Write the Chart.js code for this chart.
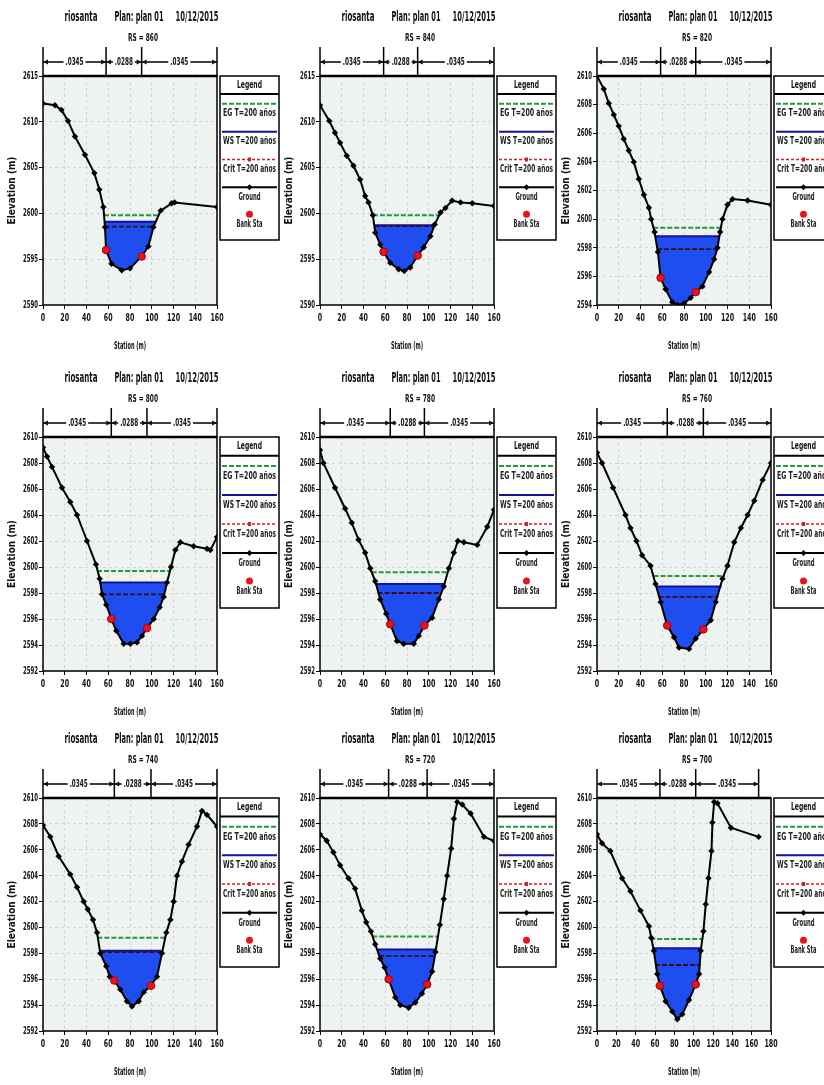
<!DOCTYPE html>
<html>
<head>
<meta charset="utf-8">
<script src="https://cdn.jsdelivr.net/npm/chart.js@4.4.0/dist/chart.umd.min.js"></script>
<style>
html, body { margin: 0; padding: 0; background: #fff; overflow: hidden; width: 824px; height: 1085px; }
canvas { position: absolute; }
</style>
</head>
<body>
<script>
//------------------------- DATA -------------------------------------------------

var titleParts = ['riosanta', 'Plan: plan 01', '10/12/2015'];
var riverSta = ['860', '840', '820', '800', '780', '760', '740', '720', '700'];
var manningN = ['.0345', '.0288', '.0345'];
var legendLabels = ['EG T=200 años', 'WS T=200 años', 'Crit T=200 años', 'Ground', 'Bank Sta'];

// ground profiles (station m / elevation m)
var st860 = [0, 11, 17, 23, 29.4, 38.6, 47.2, 51.8, 55.5, 57, 58, 63, 72.4, 80, 90.7, 96.9, 101.5, 108.2, 118.3, 121, 160];
var el860 = [2612.0, 2611.8, 2611.3, 2610.1, 2608.4, 2606.4, 2604.4, 2602.6, 2600.7, 2598.5, 2596.0, 2594.5, 2593.8, 2594.0, 2595.3, 2596.4, 2598.5, 2600.3, 2601.1, 2601.2, 2600.7];

var st840 = [0, 8.6, 13.8, 18.5, 24.6, 30.8, 36.9, 41.5, 44.6, 48.6, 50.8, 55.4, 58.5, 64.6, 72.3, 77.5, 83, 89.8, 95.4, 101.5, 105.5, 110.8, 115.4, 121.5, 129.2, 140, 160];
var el840 = [2611.8, 2610.1, 2608.8, 2607.7, 2606.3, 2605.2, 2603.7, 2601.9, 2601.2, 2599.8, 2597.9, 2596.6, 2595.8, 2594.6, 2593.9, 2593.7, 2594.1, 2595.4, 2596.3, 2597.5, 2598.8, 2600.1, 2600.6, 2601.4, 2601.2, 2601.1, 2600.8];

var st820 = [0, 6.2, 10.8, 15.4, 20, 24.6, 29.2, 33.8, 38.5, 43.1, 47.7, 49.8, 52.9, 56, 58.5, 63.1, 69.2, 74, 80, 86.2, 90.8, 96.9, 103.1, 107.7, 110.8, 113.2, 115.4, 120, 124.6, 138.5, 160];
var el820 = [2610.0, 2609.1, 2608.1, 2607.3, 2606.5, 2605.6, 2604.8, 2604.0, 2602.8, 2601.7, 2600.8, 2600.0, 2599.1, 2597.7, 2595.9, 2595.1, 2594.2, 2594.0, 2594.1, 2594.5, 2594.9, 2595.3, 2596.3, 2597.2, 2598.0, 2599.1, 2600.0, 2601.0, 2601.4, 2601.3, 2601.0];

var st800 = [0, 3.7, 8.3, 17.5, 25.1, 31.3, 40.5, 48.7, 52.1, 54.3, 58.2, 62.8, 67.4, 74.2, 80.3, 86.4, 91, 95.6, 101.8, 107.3, 111, 114, 117.7, 121.7, 126.3, 138.5, 150.8, 153.9, 160];
var el800 = [2609.2, 2608.5, 2607.7, 2606.1, 2605.0, 2604.0, 2602.0, 2600.2, 2599.1, 2597.9, 2597.1, 2596.0, 2595.1, 2594.1, 2594.1, 2594.2, 2594.7, 2595.3, 2596.0, 2596.9, 2597.7, 2598.8, 2600.0, 2601.3, 2601.9, 2601.6, 2601.4, 2601.3, 2602.3];

var st780 = [0, 3.1, 13.8, 23.1, 29.2, 35.4, 41.5, 46.2, 50.8, 55.4, 60.9, 64.6, 70.8, 76.9, 86.2, 90.8, 96, 103.1, 109.2, 113.8, 118.5, 123.1, 126.8, 132.3, 144.6, 153.8, 160];
var el780 = [2609.0, 2608.0, 2606.1, 2604.5, 2603.4, 2602.1, 2601.1, 2599.9, 2598.9, 2597.5, 2596.4, 2595.6, 2594.3, 2594.1, 2594.1, 2594.7, 2595.5, 2596.1, 2597.5, 2598.5, 2599.9, 2601.1, 2602.0, 2601.9, 2601.7, 2603.1, 2604.4];

var st760 = [0, 4.6, 14.8, 26.2, 30.8, 36.3, 41.5, 49.2, 53.8, 58.5, 64.6, 70.8, 75.4, 84.6, 90.8, 97.8, 104.6, 109.2, 115.4, 120, 126.2, 132.3, 138.5, 144.6, 152.3, 160];
var el760 = [2608.8, 2608.0, 2606.1, 2604.0, 2603.0, 2602.0, 2600.9, 2600.1, 2598.7, 2597.3, 2595.5, 2594.6, 2593.8, 2593.7, 2594.5, 2595.2, 2595.9, 2597.3, 2599.1, 2600.1, 2601.9, 2603.0, 2604.0, 2605.1, 2606.7, 2608.0];

var st740 = [0, 6.7, 14.4, 25.1, 31.3, 37.4, 41.1, 46, 49.7, 52.7, 58.2, 61.3, 65.6, 71.1, 77.2, 81.8, 88, 92.6, 99.3, 104.8, 109.4, 113.4, 117.1, 120.2, 123.2, 127.8, 133.9, 141.6, 146.2, 150.8, 160];
var el740 = [2607.9, 2607.0, 2605.5, 2604.1, 2603.1, 2602.0, 2601.4, 2600.6, 2599.6, 2598.0, 2597.0, 2596.2, 2595.9, 2595.2, 2594.3, 2593.9, 2594.3, 2595.0, 2595.5, 2596.2, 2598.0, 2599.6, 2600.6, 2602.0, 2604.0, 2605.1, 2606.4, 2607.8, 2609.0, 2608.7, 2607.8];

var st720 = [0, 6.2, 12.3, 18.5, 26.2, 32.3, 38.5, 42.5, 46.8, 50.8, 55.4, 59.4, 63.1, 69.2, 73.8, 81.5, 87.7, 93.8, 98.5, 103.1, 106.2, 110.2, 113.8, 116.9, 120.6, 123.1, 126.2, 130.8, 138.5, 150.8, 160];
var el720 = [2607.2, 2606.7, 2605.8, 2604.8, 2603.8, 2603.0, 2601.3, 2600.4, 2599.7, 2598.7, 2597.6, 2596.9, 2596.0, 2594.6, 2594.0, 2593.8, 2594.2, 2594.9, 2595.6, 2596.6, 2598.1, 2600.2, 2602.2, 2604.0, 2606.1, 2608.4, 2609.7, 2609.5, 2608.8, 2607.0, 2606.7];

var st700 = [0, 5.2, 13.8, 26, 34.6, 45, 53.7, 56.1, 58.8, 62.3, 65.1, 71, 77.9, 83.1, 88.3, 95.2, 102.1, 105.6, 107.3, 110.1, 112.5, 115.3, 118.4, 119.4, 121.2, 124.6, 138.5, 167.2];
var el700 = [2607.2, 2606.5, 2605.9, 2603.8, 2602.8, 2601.3, 2600.1, 2599.2, 2598.2, 2596.4, 2595.5, 2594.3, 2593.5, 2592.9, 2593.3, 2594.4, 2595.6, 2596.4, 2598.2, 2599.7, 2601.8, 2603.8, 2605.9, 2608.1, 2609.7, 2609.6, 2607.7, 2607.0];

var stations = [st860, st840, st820, st800, st780, st760, st740, st720, st700];
var elevations = [el860, el840, el820, el800, el780, el760, el740, el720, el700];

// bank stations
var bankLeftSt = [58, 58.5, 58.5, 62.8, 64.6, 64.6, 65.6, 63.1, 65.1];
var bankLeftEl = [2596.0, 2595.8, 2595.9, 2596.0, 2595.6, 2595.5, 2595.9, 2596.0, 2595.5];
var bankRightSt = [90.7, 89.8, 90.8, 95.6, 96, 97.8, 99.3, 98.5, 102.1];
var bankRightEl = [2595.3, 2595.4, 2594.9, 2595.3, 2595.5, 2595.2, 2595.5, 2595.6, 2595.6];

// energy grade, water surface, critical
var egElev = [2599.8, 2599.8, 2599.4, 2599.7, 2599.6, 2599.3, 2599.2, 2599.3, 2599.1];
var egLeft = [56.1, 48.6, 51.7, 49.7, 47.5, 52, 50, 48, 55];
var egRight = [105.5, 108.5, 114.5, 117, 117.5, 117.5, 113, 108.7, 109.5];
var wsElev = [2599.1, 2598.7, 2598.8, 2598.8, 2598.7, 2598.5, 2598.2, 2598.3, 2598.4];
var wsLeft = [56.6, 49.8, 53.3, 51.8, 50.5, 54.2, 52.5, 52.5, 57.5];
var wsRight = [103.5, 105.2, 112.8, 114, 114.2, 114.5, 109, 106.6, 107.4];
var critElev = [2598.55, 2598.6, 2597.9, 2597.9, 2598.0, 2597.7, 2598.1, 2597.8, 2597.1];
var critLeft = [56.9, 50, 55.3, 54.3, 53, 56.5, 52.8, 54.5, 60];
var critRight = [101.7, 105, 110.5, 111.5, 112, 111.5, 108.7, 106, 107];

// axes
var yMin = [2590, 2590, 2594, 2592, 2592, 2592, 2592, 2592, 2592];
var yMax = [2615, 2615, 2610, 2610, 2610, 2610, 2610, 2610, 2610];
var yStep = [5, 5, 2, 2, 2, 2, 2, 2, 2];
var xMax = [160, 160, 160, 160, 160, 160, 160, 160, 180];

//------------------------- LAYOUT ------------------------------------------------

var FONT = "'Liberation Sans Narrow','Arial Narrow','DejaVu Sans Condensed','Liberation Sans',sans-serif";
var colLeft = [0, 277, 554];
var rowTop = [0, 361, 722];
var plotH = [229, 234, 233];
var legendH = [164, 171, 169];

var C_EG = '#1f9a3e';
var C_WS = '#12129a';
var C_FILL = '#1f4ef0';
var C_CRIT = '#3a0c1a';
var C_BANK = '#e8141c';

//------------------------- DECORATION PLUGIN -------------------------------------

function seg(c, x1, y1, x2, y2) {
    c.beginPath(); c.moveTo(x1, y1); c.lineTo(x2, y2); c.stroke();
}

var hecDecor = {
    id: 'hecDecor',
    beforeDraw(chart) {
        var a = chart.chartArea, c = chart.ctx;
        c.save();
        c.fillStyle = '#eef3f2';
        c.fillRect(a.left, a.top, a.right - a.left, a.bottom - a.top);
        c.restore();
    },
    afterDraw(chart) {
        var p = chart.options.plugins.hecDecor;
        var a = chart.chartArea, c = chart.ctx;
        var xs = chart.scales.x, ys = chart.scales.y;
        var i = p.idx;
        c.save();
        c.strokeStyle = '#000';
        c.fillStyle = '#111';

        // frame
        c.lineWidth = 1.5;
        c.strokeRect(a.left, a.top, a.right - a.left, a.bottom - a.top);
        c.lineWidth = 2.5;
        seg(c, a.left, a.top, a.right, a.top);

        // tick labels
        c.font = 'bold 11px ' + FONT;
        c.textAlign = 'right'; c.textBaseline = 'middle';
        ys.ticks.forEach(function (t) {
            c.fillText(String(t.value), a.left - 5, ys.getPixelForValue(t.value), 15);
        });
        c.textAlign = 'center';
        xs.ticks.forEach(function (t) {
            var s = String(t.value);
            c.fillText(s, xs.getPixelForValue(t.value), a.bottom + 13, s.length * 4.4);
        });

        // axis titles
        c.font = 'bold 10px ' + FONT;
        c.fillText('Station (m)', (a.left + a.right) / 2, a.bottom + 41, 32);
        c.save();
        c.translate(12, (a.top + a.bottom) / 2);
        c.rotate(-Math.PI / 2);
        c.fillText('Elevation (m)', 0, 0, 82);
        c.restore();

        // title
        c.font = 'bold 14px ' + FONT;
        c.fillText(titleParts[0], 81, 17, 33);
        c.fillText(titleParts[1], 139, 17, 49);
        c.fillText(titleParts[2], 197, 17, 43);
        c.font = 'bold 11px ' + FONT;
        c.fillText('RS = ' + riverSta[i], 143, 38, 30);

        // manning n bar
        var st = stations[i];
        var px = [st[0], bankLeftSt[i], bankRightSt[i], st[st.length - 1]].map(function (v) { return xs.getPixelForValue(v); });
        var mTop = a.top - 29, mY = a.top - 14;
        c.lineWidth = 1.5;
        px.forEach(function (x) { seg(c, x, mTop, x, a.top); });
        seg(c, px[0], mY, px[3], mY);
        function arrow(x, dir) {
            c.beginPath();
            c.moveTo(x, mY);
            c.lineTo(x - dir * 5, mY - 2.5);
            c.lineTo(x - dir * 5, mY + 2.5);
            c.closePath();
            c.fill();
        }
        arrow(px[0], -1); arrow(px[1], 1); arrow(px[1], -1);
        arrow(px[2], 1); arrow(px[2], -1); arrow(px[3], 1);
        c.font = 'bold 11px ' + FONT;
        for (var k = 0; k < 3; k++) {
            var mid = (px[k] + px[k + 1]) / 2;
            var w = Math.min(c.measureText(manningN[k]).width, 18);
            c.fillStyle = '#fff';
            c.fillRect(mid - w / 2 - 2, mY - 5, w + 4, 10);
            c.fillStyle = '#111';
            c.fillText(manningN[k], mid, mY, 18);
        }

        // legend box
        var lx = a.right + 3, ly = a.top, lw = 59, lh = p.legendH, f = lh / 165;
        c.fillStyle = '#fff';
        c.fillRect(lx, ly, lw, lh);
        c.lineWidth = 1.5;
        c.strokeRect(lx, ly, lw, lh);
        c.lineWidth = 2;
        seg(c, lx, ly + 18 * f, lx + lw, ly + 18 * f);
        c.fillStyle = '#111';
        c.font = 'bold 11px ' + FONT;
        c.fillText('Legend', lx + lw / 2, ly + 9 * f, 25);
        var x1 = lx + 2, x2 = lx + lw - 2, cx = lx + lw / 2;
        // EG
        c.strokeStyle = C_EG; c.lineWidth = 2; c.setLineDash([5, 2]);
        seg(c, x1, ly + 28 * f, x2, ly + 28 * f);
        // WS
        c.strokeStyle = C_WS; c.setLineDash([]);
        seg(c, x1, ly + 56 * f, x2, ly + 56 * f);
        // Crit
        c.strokeStyle = '#d0202a'; c.lineWidth = 1.5; c.setLineDash([3, 2]);
        seg(c, x1, ly + 84 * f, x2, ly + 84 * f);
        c.setLineDash([]);
        c.fillStyle = '#d0202a';
        c.fillRect(cx - 1.5, ly + 84 * f - 2, 3, 4);
        // Ground
        c.strokeStyle = '#000'; c.lineWidth = 2;
        seg(c, x1, ly + 112 * f, x2, ly + 112 * f);
        c.fillStyle = '#000';
        c.beginPath();
        c.moveTo(cx, ly + 112 * f - 3); c.lineTo(cx + 3, ly + 112 * f);
        c.lineTo(cx, ly + 112 * f + 3); c.lineTo(cx - 3, ly + 112 * f);
        c.closePath(); c.fill();
        // Bank
        c.fillStyle = C_BANK;
        c.beginPath(); c.arc(cx, ly + 139 * f, 3.5, 0, Math.PI * 2); c.fill();
        // legend texts
        c.fillStyle = '#222';
        c.font = 'bold 10px ' + FONT;
        c.fillText(legendLabels[0], cx, ly + 38 * f, 53);
        c.fillText(legendLabels[1], cx, ly + 66 * f, 53);
        c.fillText(legendLabels[2], cx, ly + 94 * f, 53);
        c.fillText(legendLabels[3], cx, ly + 122 * f, 22);
        c.fillText(legendLabels[4], cx, ly + 149 * f, 26);

        c.restore();
    }
};

//------------------------- BUILD PANELS -----------------------------------------

function pts(xArr, yArr) {
    var out = [];
    for (let k = 0; k < xArr.length; k++) {
        out.push({ x: xArr[k], y: yArr[k] });
    }
    return out;
}

function makePanel(i) {
    var col = i % 3, row = Math.floor(i / 3);
    var H = plotH[row];
    var canvas = document.createElement('canvas');
    canvas.width = 280; canvas.height = 361;
    canvas.style.left = colLeft[col] + 'px';
    canvas.style.top = rowTop[row] + 'px';
    canvas.style.width = '280px';
    canvas.style.height = '361px';
    document.body.appendChild(canvas);

    var gridOpts = { color: 'rgba(160,172,172,0.4)', tickColor: '#000', tickLength: 4, lineWidth: 1 };
    var borderOpts = { display: false, dash: [3, 3] };

    new Chart(canvas, {
        type: 'line',
        data: {
            datasets: [
                {   // bank stations
                    data: [{ x: bankLeftSt[i], y: bankLeftEl[i] }, { x: bankRightSt[i], y: bankRightEl[i] }],
                    showLine: false, pointRadius: 3.8, pointBackgroundColor: C_BANK,
                    pointBorderColor: '#a00010', pointBorderWidth: 1, order: 0
                },
                {   // ground
                    data: pts(stations[i], elevations[i]),
                    borderColor: '#000', borderWidth: 2, tension: 0,
                    pointStyle: 'rectRot', pointRadius: 3.2, pointBackgroundColor: '#000',
                    pointBorderColor: '#000', pointBorderWidth: 0, fill: false, order: 1
                },
                {   // critical
                    data: [{ x: critLeft[i], y: critElev[i] }, { x: critRight[i], y: critElev[i] }],
                    borderColor: C_CRIT, borderWidth: 1.8, borderDash: [5, 2], pointRadius: 0,
                    fill: false, order: 2
                },
                {   // water surface, filled down to ground
                    data: [{ x: wsLeft[i], y: wsElev[i] }, { x: wsRight[i], y: wsElev[i] }],
                    borderColor: C_WS, borderWidth: 2, pointRadius: 0,
                    fill: { target: 1, above: C_FILL, below: 'rgba(0,0,0,0)' }, order: 3
                },
                {   // energy grade
                    data: [{ x: egLeft[i], y: egElev[i] }, { x: egRight[i], y: egElev[i] }],
                    borderColor: C_EG, borderWidth: 2, borderDash: [5, 2], pointRadius: 0,
                    fill: false, order: 4
                }
            ]
        },
        options: {
            responsive: false,
            animation: false,
            devicePixelRatio: 1,
            layout: { padding: { left: 0, top: 76, right: 63, bottom: 361 - 76 - H - 50 } },
            plugins: {
                legend: { display: false },
                tooltip: { enabled: false },
                hecDecor: { idx: i, legendH: legendH[row] }
            },
            scales: {
                x: {
                    type: 'linear', min: 0, max: xMax[i],
                    ticks: { stepSize: 20, display: false },
                    grid: gridOpts, border: borderOpts,
                    afterFit: function (s) { s.height = 50; }
                },
                y: {
                    type: 'linear', min: yMin[i], max: yMax[i],
                    ticks: { stepSize: yStep[i], display: false },
                    grid: gridOpts, border: borderOpts,
                    afterFit: function (s) { s.width = 43; }
                }
            }
        },
        plugins: [hecDecor]
    });
}

for (let i = 0; i < 9; i++) {
    makePanel(i);
}
</script>
</body>
</html>
